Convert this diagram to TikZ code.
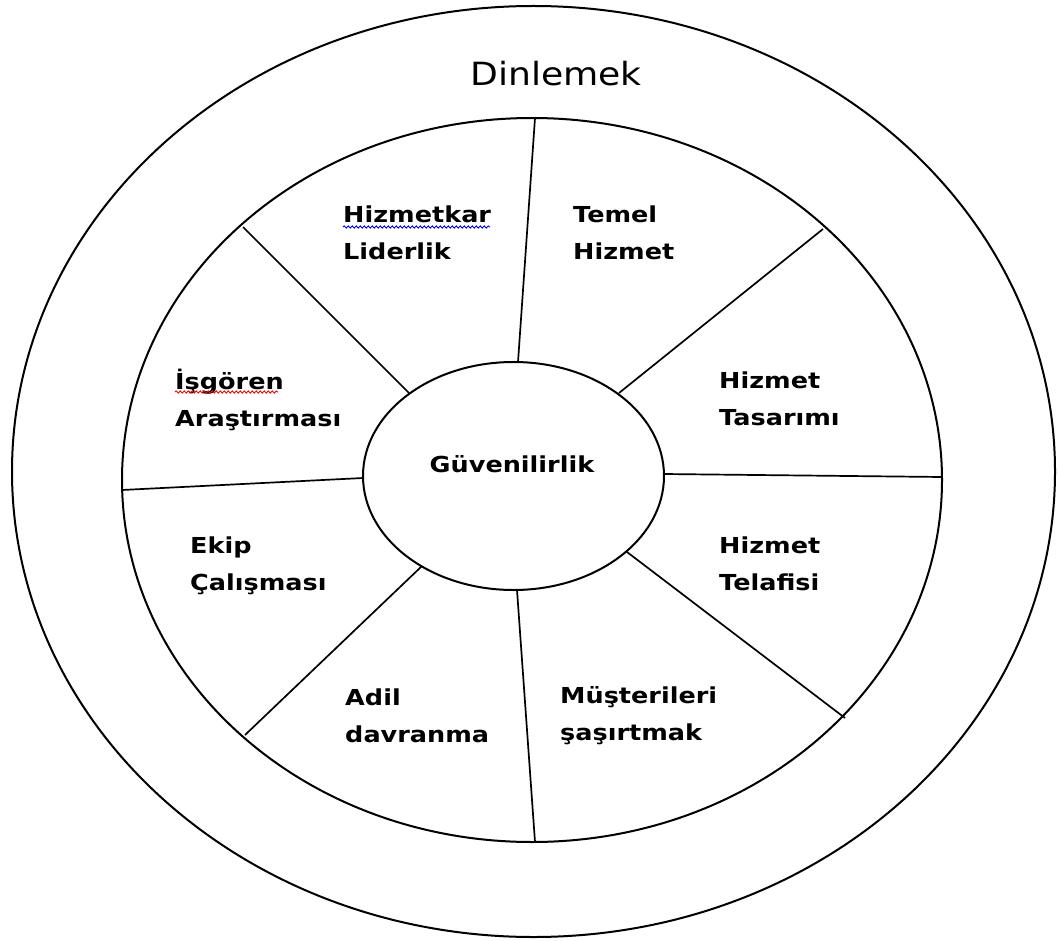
\documentclass[tikz,border=0pt]{standalone}
\usepackage{fontspec}
\setmainfont{DejaVu Sans}
\usetikzlibrary{decorations.pathmorphing}
\tikzset{
  lbl/.style={anchor=base west, inner sep=0pt, align=left, font=\bfseries\fontsize{22}{37}\selectfont, xscale=1.16},
  wavy/.style={decorate, decoration={snake, amplitude=1.1pt, segment length=4pt}, line width=0.9pt}
}
\begin{document}
\begin{tikzpicture}[x=1pt,y=1pt,yscale=-1,xscale=1]
\useasboundingbox (0,0) rectangle (1059,941);
% rings
\draw [line width=2pt] (533.5,471.5) ellipse (521.5 and 465.5);
\draw [line width=2pt] (532,480) ellipse (410 and 362);
\draw [line width=2pt] (513.5,476) ellipse (150.5 and 114);
% spokes
\draw [line width=1.7pt] (518,362) -- (535,118);
\draw [line width=1.7pt] (619,393) -- (823,229);
\draw [line width=1.7pt] (664,474) -- (942,477);
\draw [line width=1.7pt] (627,552) -- (845,718);
\draw [line width=1.7pt] (517,590) -- (535,842);
\draw [line width=1.7pt] (422,566) -- (245,735);
\draw [line width=1.7pt] (363,478) -- (122,490);
\draw [line width=1.7pt] (409,393) -- (243,227);
% texts
\node (dinlemek) [anchor=base, inner sep=0pt, font=\fontsize{32}{37}\selectfont, xscale=1.13] at (556,86) {Dinlemek};
\node (guven) [anchor=base, inner sep=0pt, font=\bfseries\fontsize{22}{37}\selectfont, xscale=1.16] at (512,472) {Güvenilirlik};
\node (hizmetkar) [lbl] at (343,259) {Hizmetkar\\Liderlik};
\node (temel) [lbl] at (573,259) {Temel\\Hizmet};
\node (isgoren) [lbl] at (175,426) {İşgören\\Araştırması};
\node (tasarim) [lbl] at (719,425) {Hizmet\\Tasarımı};
\node (ekip) [lbl] at (190,590) {Ekip\\Çalışması};
\node (telafi) [lbl] at (719,590) {Hizmet\\Telafisi};
\node (adil) [lbl] at (345,742) {Adil\\davranma};
\node (musteri) [lbl] at (560,740) {Müşterileri\\şaşırtmak};
% spell-check marks
\draw [wavy, blue] (343,227) -- (490,227);
\draw [wavy, red] (175,392) -- (278,392);
\end{tikzpicture}
\end{document}
